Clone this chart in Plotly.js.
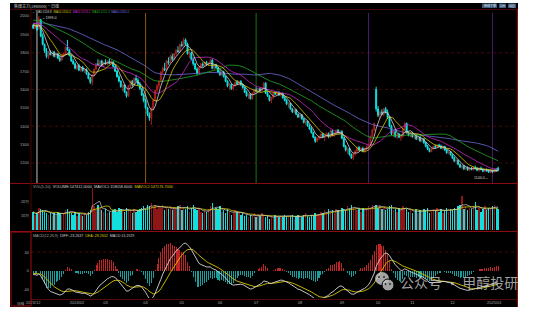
<!DOCTYPE html>
<html><head><meta charset="utf-8">
<script src="https://cdn.plot.ly/plotly-3.0.1.min.js"></script>
<style>html,body{margin:0;padding:0;background:#fff;}#c{width:545px;height:312px;}</style>
</head><body><div id="c"></div>
<script>
// ---------- DATA ----------
const warmClose = [1880,1875,1890,1885,1900,1895,1910,1905,1920,1915,1925,1930,1920,1935,1945,1940,1955,1950,1965,1960,
1975,1970,1985,1990,1980,2000,1995,2010,2005,2000,2015,2010,2005,1995,2000,1990,1985,1995,1980,1975,
1985,1970,1980,1975,1965,1980,1970,1960,1975,1965,1955,1970,1960,1950,1965,1955,1945,1960,1950,1945];

const open = [1950,1932,1950,1930,1980,1890,1845,1810,1780,1800,
1790,1805,1780,1795,1770,1760,1785,1795,1830,1815,
1785,1755,1740,1715,1730,1705,1720,1702,1708,1685,
1660,1640,1678,1710,1740,1735,1755,1730,1748,1740,
1755,1745,1750,1725,1700,1670,1645,1615,1625,1585,
1565,1620,1645,1625,1660,1650,1628,1605,1570,1540,
1500,1465,1445,1495,1540,1595,1620,1645,1695,1715,
1705,1755,1745,1780,1765,1795,1812,1805,1845,1840,
1870,1848,1795,1800,1765,1740,1712,1690,1720,1738,
1730,1748,1735,1745,1760,1715,1732,1718,1695,1680,
1695,1670,1645,1620,1628,1605,1620,1640,1632,1645,
1625,1610,1585,1565,1575,1550,1580,1598,1590,1605,
1595,1608,1635,1580,1565,1540,1555,1580,1575,1585,
1570,1580,1555,1540,1520,1525,1495,1478,1490,1465,
1450,1462,1440,1420,1428,1402,1385,1365,1340,1318,
1335,1345,1358,1340,1348,1360,1342,1375,1350,1362,
1378,1365,1372,1335,1290,1270,1278,1245,1228,1250,
1265,1285,1270,1280,1262,1278,1290,1300,1345,1380,
1600,1495,1460,1478,1465,1495,1475,1448,1400,1360,
1370,1345,1355,1340,1345,1385,1415,1365,1350,1362,
1342,1350,1330,1340,1320,1332,1310,1290,1275,1262,
1278,1290,1285,1298,1292,1280,1290,1270,1255,1262,
1245,1228,1210,1215,1192,1178,1185,1168,1175,1162,
1170,1165,1176,1170,1160,1172,1165,1155,1162,1158,
1150,1160,1150,1165,1172];

const high = [1958,1955,1955,1999,1985,1905,1850,1825,1810,1815,
1812,1810,1800,1798,1785,1790,1800,1835,1870,1820,
1792,1765,1748,1735,1740,1725,1728,1712,1715,1690,
1668,1685,1715,1745,1765,1760,1762,1752,1765,1758,
1768,1762,1755,1730,1705,1680,1650,1630,1628,1590,
1625,1650,1652,1665,1680,1662,1640,1610,1580,1548,
1505,1475,1505,1545,1600,1630,1650,1700,1725,1745,
1762,1775,1790,1795,1800,1820,1835,1850,1862,1882,
1878,1855,1810,1805,1775,1745,1720,1725,1745,1748,
1752,1756,1750,1765,1768,1738,1740,1722,1705,1700,
1702,1675,1650,1635,1632,1625,1645,1652,1648,1650,
1632,1615,1595,1580,1580,1585,1602,1612,1608,1610,
1612,1640,1640,1588,1570,1560,1585,1592,1590,1590,
1585,1583,1562,1548,1530,1528,1500,1495,1494,1470,
1468,1466,1445,1432,1430,1410,1395,1370,1345,1340,
1350,1362,1365,1352,1368,1366,1382,1380,1368,1382,
1385,1380,1378,1340,1298,1285,1282,1252,1255,1270,
1290,1292,1285,1288,1282,1295,1305,1350,1385,1420,
1615,1510,1485,1492,1500,1505,1490,1455,1408,1375,
1378,1362,1365,1350,1390,1422,1420,1372,1368,1370,
1355,1358,1345,1348,1338,1335,1315,1298,1280,1282,
1295,1300,1302,1305,1300,1295,1293,1278,1268,1265,
1250,1235,1220,1218,1198,1190,1188,1180,1182,1175,
1178,1180,1185,1178,1175,1180,1170,1168,1170,1165,
1165,1163,1170,1172,1180];

const low = [1928,1928,1920,1925,1885,1840,1800,1770,1765,1785,
1782,1775,1770,1765,1750,1755,1775,1790,1810,1780,
1750,1735,1710,1705,1700,1695,1698,1690,1680,1655,
1630,1622,1672,1705,1730,1728,1725,1722,1735,1732,
1738,1735,1720,1695,1665,1640,1610,1590,1580,1555,
1560,1610,1615,1620,1640,1620,1598,1565,1530,1495,
1455,1430,1407,1488,1535,1585,1605,1640,1680,1700,
1700,1735,1740,1755,1760,1785,1800,1800,1830,1835,
1840,1790,1770,1760,1730,1705,1680,1685,1712,1722,
1725,1730,1728,1738,1710,1708,1712,1690,1675,1672,
1665,1640,1612,1600,1598,1595,1615,1625,1622,1620,
1605,1580,1560,1548,1545,1545,1572,1585,1582,1585,
1590,1600,1575,1560,1535,1525,1550,1570,1568,1565,
1562,1550,1535,1515,1500,1490,1472,1470,1460,1445,
1442,1435,1415,1405,1398,1380,1360,1335,1310,1312,
1325,1330,1335,1318,1340,1335,1338,1345,1342,1355,
1358,1355,1330,1285,1262,1250,1240,1222,1215,1240,
1258,1265,1262,1258,1255,1270,1280,1295,1340,1375,
1480,1450,1440,1460,1455,1470,1440,1395,1350,1342,
1338,1330,1335,1320,1340,1380,1360,1345,1340,1338,
1330,1325,1322,1315,1312,1305,1285,1270,1258,1258,
1272,1280,1280,1285,1275,1272,1265,1250,1248,1240,
1222,1205,1195,1188,1172,1168,1162,1160,1158,1155,
1160,1158,1165,1155,1152,1160,1150,1148,1152,1146,
1144,1146,1148,1152,1155];

const close = [1935,1950,1925,1985,1890,1845,1810,1780,1800,1790,
1805,1780,1795,1770,1760,1785,1795,1830,1815,1785,
1755,1740,1715,1730,1705,1720,1702,1708,1685,1660,
1640,1678,1710,1740,1735,1755,1730,1748,1740,1755,
1745,1750,1725,1700,1670,1645,1615,1625,1585,1565,
1620,1645,1625,1660,1650,1628,1605,1570,1540,1500,
1465,1445,1495,1540,1595,1620,1645,1695,1715,1705,
1755,1745,1780,1765,1795,1812,1805,1845,1840,1870,
1848,1795,1800,1765,1740,1712,1690,1720,1738,1730,
1748,1735,1745,1760,1715,1732,1718,1695,1680,1695,
1670,1645,1620,1628,1605,1620,1640,1632,1645,1625,
1610,1585,1565,1575,1550,1580,1598,1590,1605,1595,
1608,1635,1580,1565,1540,1555,1580,1575,1585,1570,
1580,1555,1540,1520,1525,1495,1478,1490,1465,1450,
1462,1440,1420,1428,1402,1385,1365,1340,1318,1335,
1345,1358,1340,1348,1360,1342,1375,1350,1362,1378,
1365,1372,1335,1290,1270,1278,1245,1228,1250,1265,
1285,1270,1280,1262,1278,1290,1300,1345,1380,1415,
1495,1460,1478,1465,1495,1475,1448,1400,1360,1370,
1345,1355,1340,1345,1385,1415,1365,1350,1362,1342,
1350,1330,1340,1320,1332,1310,1290,1275,1262,1278,
1290,1285,1298,1292,1280,1290,1270,1255,1262,1245,
1228,1210,1215,1192,1178,1185,1168,1175,1162,1170,
1165,1176,1170,1160,1172,1165,1155,1162,1158,1150,
1160,1150,1165,1158,1160];

// volume in 万手
const volume = [13,11,12,16,15,14,13,12,11,12,
10,12,11,13,12,11,12,14,15,13,
12,11,13,10,12,11,10,12,11,13,
14,36,17,15,18,16,14,13,15,12,
13,12,14,15,13,16,15,14,13,16,
15,14,12,15,13,14,15,16,17,15,
18,17,19,16,18,15,17,16,18,14,
16,15,17,14,16,15,17,18,14,16,
15,17,13,16,18,15,14,15,13,12,
14,13,15,17,19,14,16,15,17,13,
14,12,15,13,11,12,14,13,12,11,
12,10,11,9,11,10,12,9,11,10,
12,11,9,10,8,10,9,11,10,9,
10,9,11,10,9,10,11,8,10,11,
10,9,11,12,10,9,11,10,12,11,
11,13,12,14,12,15,13,14,12,15,
14,13,16,15,14,17,15,18,16,15,
14,15,13,16,14,15,17,16,18,17,
18,16,17,15,16,14,15,17,18,14,
15,13,16,14,17,16,15,13,14,12,
13,15,12,14,13,15,14,16,12,13,
15,14,16,13,15,12,14,16,13,15,
14,16,15,17,18,24,15,17,14,16,
15,17,20,14,16,13,15,17,14,16,
15,17,18,16,14.7];

const monthStart  = [0,23,38,59,78,98,117,140,162,181,199,220,242];
const monthLabels = ['2023/12','2024/02','03','04','05','06','07','08','09','10','11','12','2025/01'];
const markerBars  = [2,59,117,176,241];
const priceTicks  = [1200,1300,1400,1500,1600,1700,1800,1900,2000];
const volTicks    = [10,20];
const volTickText = ['10万','20万'];
const macdTicks   = [-40,0,40];

const titleText = '焦煤主力(JM0000)·日线';
const maLegend  = [['MA5:1158.8','#d0d0d0'],['MA10:1150.2','#d8c800'],['MA20:1159.2','#c828c8'],['MA40:1211.3','#22a822'],['MA60:1265.5','#7070e0']];
const volLegend = [['VOL(5,10)','#a8a8a8'],['VOLUME:147412.0000','#d0d0d0'],['MAVOL1:158058.6000','#d0d0d0'],['MAVOL2:147176.7000','#d8c800']];
const macdLegend= [['MACD(12,26,9)','#a8a8a8'],['DIFF:-23.2637','#d0d0d0'],['DEA:-28.2602','#d8c800'],['MACD:13.1929','#d0d0d0']];

// ---------- DERIVED ----------
const idx = close.map((_,i)=>i);
const full = warmClose.concat(close);
const W0 = warmClose.length;
function ma(n){ return close.map((_,i)=>{const e=W0+i;let s=0;for(let k=e-n+1;k<=e;k++)s+=full[k];return s/n;}); }
function maPartial(arr,n){ return arr.map((_,i)=>{let s=0,c=0;for(let k=Math.max(0,i-n+1);k<=i;k++){s+=arr[k];c++;}return s/c;}); }
let e12=full[0], e26=full[0], dea=0; const diffA=[], deaA=[], histA=[];
full.forEach((v,k)=>{ e12=e12*11/13+v*2/13; e26=e26*25/27+v*2/27; const d=e12-e26; dea=dea*0.8+d*0.2;
  if(k>=W0){diffA.push(d);deaA.push(dea);histA.push(2*(d-dea));} });
const dnCol='#12e2e2';
const volColors = close.map((c,i)=> c>=open[i]?'#8e1616':'#12dede');
const histColors = histA.map(v=> v>=0?'#c02424':'#1c9c9c');

// ---------- LAYOUT HELPERS ----------
const W=545,H=312;
const px=x=>x/W, py=y=>1-y/H;
const FONT='Liberation Sans, DejaVu Sans, Noto Sans CJK SC, sans-serif';

const traces = [
 {type:'candlestick', x:idx, open:open, high:high, low:low, close:close, xaxis:'x', yaxis:'y',
  increasing:{line:{color:'#a82020',width:1},fillcolor:'#8a1414'},
  decreasing:{line:{color:dnCol,width:1},fillcolor:dnCol}, whiskerwidth:0, hoverinfo:'skip', showlegend:false},
];
const maCols = {5:'#d0d0d0',10:'#d8c800',20:'#c828c8',40:'#22a822',60:'#6a6ad8'};
[60,40,20,10,5].forEach(n=>traces.push({type:'scatter',mode:'lines',x:idx,y:ma(n),xaxis:'x',yaxis:'y',
  line:{color:maCols[n],width:0.8},hoverinfo:'skip',showlegend:false}));
traces.push({type:'bar',x:idx,y:volume,xaxis:'x',yaxis:'y2',marker:{color:volColors,line:{width:0}},width:0.75,hoverinfo:'skip',showlegend:false});
traces.push({type:'scatter',mode:'lines',x:idx,y:maPartial(volume,10),xaxis:'x',yaxis:'y2',line:{color:'#d8c800',width:0.8},hoverinfo:'skip',showlegend:false});
traces.push({type:'scatter',mode:'lines',x:idx,y:maPartial(volume,5),xaxis:'x',yaxis:'y2',line:{color:'#cfcfcf',width:0.7},hoverinfo:'skip',showlegend:false});
traces.push({type:'bar',x:idx,y:histA,xaxis:'x',yaxis:'y3',marker:{color:histColors,line:{width:0}},width:0.55,hoverinfo:'skip',showlegend:false});
traces.push({type:'scatter',mode:'lines',x:idx,y:deaA,xaxis:'x',yaxis:'y3',line:{color:'#d8c800',width:0.9},hoverinfo:'skip',showlegend:false});
traces.push({type:'scatter',mode:'lines',x:idx,y:diffA,xaxis:'x',yaxis:'y3',line:{color:'#d8d8d8',width:0.9},hoverinfo:'skip',showlegend:false});

const shapes = [];
shapes.push({type:'rect',xref:'paper',yref:'paper',x0:px(10),x1:px(518),y0:py(307),y1:py(3),fillcolor:'#000',line:{width:0},layer:'below'});
[1200,1400,1600,1800].forEach(v=>shapes.push({type:'line',xref:'paper',yref:'y',x0:px(31),x1:px(517),y0:v,y1:v,line:{color:'#420909',width:1,dash:'dot'},layer:'below'}));
shapes.push({type:'line',xref:'paper',yref:'y3',x0:px(31),x1:px(517),y0:40,y1:40,line:{color:'#420909',width:1,dash:'dot'},layer:'below'});
const mCols=['#bdbdbd','#8a5a12','#127a12','#4c1c70','#4c1c70'];
markerBars.forEach((b,k)=>shapes.push({type:'line',xref:'x',yref:'paper',x0:b,x1:b,y0:py(183),y1:py(13),line:{color:mCols[k],width:1},layer:'below'}));
const red='#8a0c0c';
const hl=(y,x0,x1,c)=>shapes.push({type:'line',xref:'paper',yref:'paper',x0:px(x0),x1:px(x1),y0:py(y),y1:py(y),line:{color:c||red,width:1}});
const vl=(x,y0,y1,c)=>shapes.push({type:'line',xref:'paper',yref:'paper',x0:px(x),x1:px(x),y0:py(y0),y1:py(y1),line:{color:c||red,width:1}});
hl(9.5,10,518,'#4a0606'); hl(183.5,10,518); hl(231.5,10,518); hl(299.5,31,517,'#5a0808');
vl(517.5,9,307); vl(31,9,232,'#4a0606');
shapes.push({type:'rect',xref:'paper',yref:'paper',x0:px(11),x1:px(31),y0:py(306),y1:py(232),line:{color:'#a00e0e',width:1}});
[[482,497],[499,506],[508,516]].forEach(b=>shapes.push({type:'rect',xref:'paper',yref:'paper',x0:px(b[0]),x1:px(b[1]),y0:py(8),y1:py(3.5),fillcolor:'#3d5a7c',line:{width:0}}));
shapes.push({type:'circle',xref:'paper',yref:'paper',x0:px(375),x1:px(389),y0:py(285),y1:py(272),fillcolor:'rgba(205,205,205,0.8)',line:{width:0}});
shapes.push({type:'circle',xref:'paper',yref:'paper',x0:px(382),x1:px(394),y0:py(291),y1:py(279),fillcolor:'rgba(190,190,190,0.85)',line:{color:'#000',width:1}});
[[379,277],[384,277],[385.5,284],[390,284]].forEach(e=>shapes.push({type:'circle',xref:'paper',yref:'paper',x0:px(e[0]-0.9),x1:px(e[0]+0.9),y0:py(e[1]+0.9),y1:py(e[1]-0.9),fillcolor:'#222',line:{width:0}}));

function spans(items){return items.map(it=>`<span style="color:${it[1]}">${it[0]}</span>`).join('  ');}
const ann = [];
const A=(o)=>ann.push(Object.assign({xref:'paper',yref:'paper',showarrow:false,xanchor:'left',yanchor:'middle',font:{family:FONT,size:4,color:'#c8c8c8'}},o));
A({x:px(12),y:py(5.8),text:titleText,font:{family:'Noto Sans CJK SC',size:4,color:'#d0d0d0'}});
A({x:px(31),y:py(12),text:'<span style="color:#888">▪</span>  '+spans(maLegend),font:{family:FONT,size:3,color:'#ccc'}});
A({x:px(31),y:py(186.5),text:spans(volLegend),font:{family:FONT,size:3.8,color:'#ccc'}});
A({x:px(31),y:py(235.5),text:spans(macdLegend),font:{family:FONT,size:3.6,color:'#ccc'}});
A({x:px(15),y:py(303.5),text:'日线',font:{family:'Noto Sans CJK SC',size:3.6,color:'#b0b0b0'}});
A({x:px(489.5),y:py(5.8),xanchor:'center',text:'画线下单',font:{family:'Noto Sans CJK SC',size:3,color:'#e0e8f0'}});
A({x:px(502.5),y:py(5.8),xanchor:'center',text:'闪电',font:{family:'Noto Sans CJK SC',size:2.6,color:'#e0e8f0'}});
A({x:px(512),y:py(5.8),xanchor:'center',text:'返回',font:{family:'Noto Sans CJK SC',size:2.8,color:'#e0e8f0'}});
A({x:px(398),y:py(281.5),text:'公众号 · 甲醇投研',font:{family:'Noto Sans CJK SC',size:14,color:'rgba(205,205,205,0.78)'}});
const hiMax=Math.max(...high), hiIdx=high.indexOf(hiMax);
const loMin=Math.min(...low), loIdx=low.indexOf(loMin);
ann.push({xref:'x',yref:'y',x:hiIdx,y:hiMax,xanchor:'left',yanchor:'middle',xshift:1,yshift:-2,showarrow:false,text:'←'+hiMax.toFixed(1),font:{family:FONT,size:3.6,color:'#d8d8d8'}});
ann.push({xref:'x',yref:'y',x:loIdx,y:loMin,xanchor:'right',yanchor:'middle',xshift:-1,yshift:-5,showarrow:false,text:loMin.toFixed(1)+'→',font:{family:FONT,size:3.6,color:'#d8d8d8'}});

const tf={family:FONT,size:4,color:'#a8a8a8'};
const layout = {
 width:W,height:H,margin:{l:0,r:0,t:0,b:0},paper_bgcolor:'#fff',plot_bgcolor:'rgba(0,0,0,0)',
 showlegend:false,bargap:0,
 xaxis:{domain:[px(31),px(517)],range:[-1.13,253.9],anchor:'y3',showgrid:false,zeroline:false,showline:false,ticks:'',
   tickmode:'array',tickvals:monthStart,ticktext:monthLabels,tickfont:tf,rangeslider:{visible:false},fixedrange:true,ticklabelstandoff:1},
 yaxis:{domain:[py(183),py(14)],range:[1091,2011],anchor:'x',showgrid:false,zeroline:false,ticks:'',tickmode:'array',
   tickvals:priceTicks,ticktext:priceTicks.map(String),tickfont:tf,fixedrange:true,ticklabelstandoff:1},
 yaxis2:{domain:[py(230),py(188)],range:[0,30],anchor:'x',showgrid:false,zeroline:false,ticks:'',tickmode:'array',
   tickvals:volTicks,ticktext:volTickText,tickfont:{family:'Noto Sans CJK SC',size:3.8,color:'#a8a8a8'},fixedrange:true,ticklabelstandoff:1},
 yaxis3:{domain:[py(298),py(237)],range:[-57,72],anchor:'x',showgrid:false,zeroline:false,ticks:'',tickmode:'array',
   tickvals:macdTicks,ticktext:macdTicks.map(String),tickfont:tf,fixedrange:true,ticklabelstandoff:1},
 shapes:shapes, annotations:ann
};
Plotly.newPlot('c',traces,layout,{staticPlot:true,displayModeBar:false});
</script></body></html>
